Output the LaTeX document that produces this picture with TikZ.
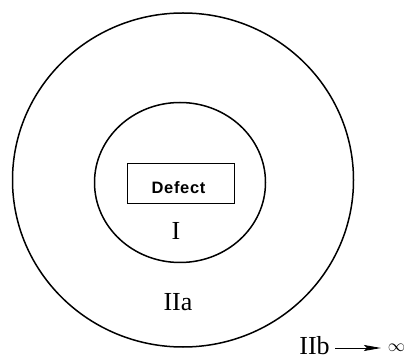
\documentclass[tikz,border=0pt]{standalone}
\usepackage{fontspec}
\setmainfont{Liberation Serif}
\newfontfamily\defectfont[LetterSpace=4]{Liberation Sans}
\usetikzlibrary{shapes.geometric,arrows.meta}
\begin{document}
\begin{tikzpicture}[x=1pt,y=-1pt,
  ring/.style={draw,ellipse,line width=1.5pt,inner sep=0pt},
  lbl/.style={font=\fontsize{26}{28}\selectfont,anchor=base,inner sep=0pt},
  defectbox/.style={draw,line width=1.6pt,minimum width=107pt,minimum height=40pt,inner sep=0pt},
  defecttxt/.style={font=\defectfont\bfseries\fontsize{16.5}{18}\selectfont,inner sep=0pt}]
\useasboundingbox (0,0) rectangle (407,355);
\node[ring,minimum width=341pt,minimum height=334pt] (outer) at (183,180) {};
\node[ring,minimum width=171pt,minimum height=160pt] (inner) at (180,182.5) {};
\node[defectbox] (defect) at (181,183.5) {};
\node[defecttxt] (defecttext) at (178.5,187.5) {Defect};
\node[lbl] (one) at (176,240) {I};
\node[lbl] (twoa) at (178,311) {IIa};
\node[lbl] (twob) at (314.5,354.5) {IIb};
\node[font=\fontsize{17}{19}\selectfont,inner sep=0pt] (inf) at (396.5,348) {$\infty$};
\coordinate (as) at (335,348);
\coordinate (ae) at (381,348);
\draw[line width=0.9pt,-{Stealth[length=17pt,width=6pt,inset=3pt]}] (as) -- (ae);
\end{tikzpicture}
\end{document}
